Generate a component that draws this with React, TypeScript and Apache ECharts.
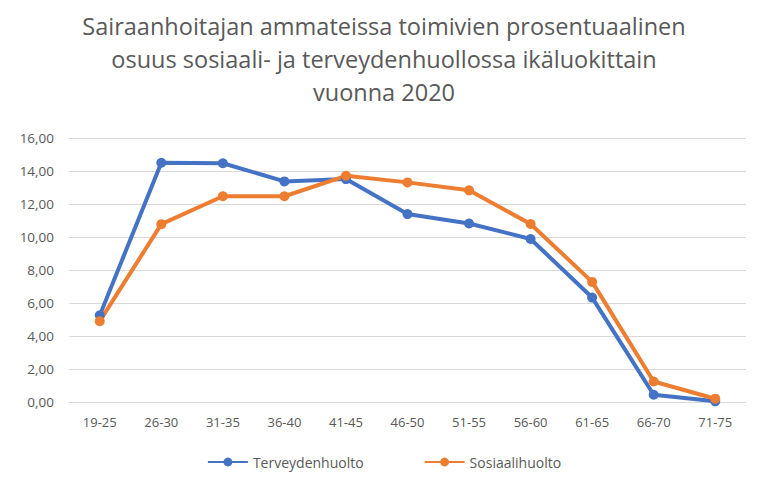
import React, { useEffect, useRef } from "react";
import * as echarts from "echarts";

const categories = ["19-25", "26-30", "31-35", "36-40", "41-45", "46-50", "51-55", "56-60", "61-65", "66-70", "71-75"];
const terveydenhuolto = [5.25, 14.5, 14.47, 13.37, 13.51, 11.39, 10.82, 9.88, 6.33, 0.44, 0.04];
const sosiaalihuolto = [4.9, 10.78, 12.47, 12.47, 13.71, 13.31, 12.83, 10.79, 7.28, 1.24, 0.2];
const titleText = "Sairaanhoitajan ammateissa toimivien prosentuaalinen\nosuus sosiaali- ja terveydenhuollossa ikäluokittain\nvuonna 2020";

export default function App() {
  const ref = useRef<HTMLDivElement>(null);
  useEffect(() => {
    const chart = echarts.init(ref.current!, undefined, { renderer: "svg" });
    const font = "'Open Sans', 'Noto Sans', sans-serif";
    chart.setOption({
      animation: false,
      backgroundColor: "#ffffff",
      title: {
        text: titleText,
        left: "center",
        top: 3,
        textStyle: { fontFamily: font, fontSize: 23.5, fontWeight: "normal", color: "#595959", lineHeight: 33 },
      },
      grid: { left: 68, right: 21, top: 137, bottom: 90, containLabel: false },
      legend: {
        bottom: 18,
        left: "center",
        itemWidth: 40,
        itemHeight: 11,
        itemGap: 60,
        textStyle: { fontFamily: font, fontSize: 14, color: "#595959" },
        data: ["Terveydenhuolto", "Sosiaalihuolto"],
      },
      xAxis: {
        type: "category",
        data: categories,
        boundaryGap: true,
        axisLine: { lineStyle: { color: "#d9d9d9" } },
        axisTick: { show: false },
        axisLabel: { fontFamily: font, fontSize: 13, color: "#595959", margin: 13 },
      },
      yAxis: {
        type: "value",
        min: 0,
        max: 16,
        interval: 2,
        axisLine: { show: false },
        axisTick: { show: false },
        axisLabel: {
          fontFamily: font,
          fontSize: 13.5,
          color: "#595959",
          margin: 15,
          formatter: (v: number) => v.toFixed(2).replace(".", ","),
        },
        splitLine: { lineStyle: { color: "#d9d9d9", width: 1 } },
      },
      series: [
        {
          name: "Terveydenhuolto",
          type: "line",
          data: terveydenhuolto,
          color: "#4472c4",
          symbol: "circle",
          symbolSize: 10,
          lineStyle: { width: 4 },
        },
        {
          name: "Sosiaalihuolto",
          type: "line",
          data: sosiaalihuolto,
          color: "#ed7d31",
          symbol: "circle",
          symbolSize: 10,
          lineStyle: { width: 4 },
        },
      ],
    });
    return () => chart.dispose();
  }, []);
  return (
    <div style={{ width: 768, height: 493, margin: -8, position: "relative" }}>
      <div
        ref={ref}
        style={{ width: 766, height: 491, border: "1px solid #d9d9d9", borderRadius: 4 }}
      />
    </div>
  );
}
